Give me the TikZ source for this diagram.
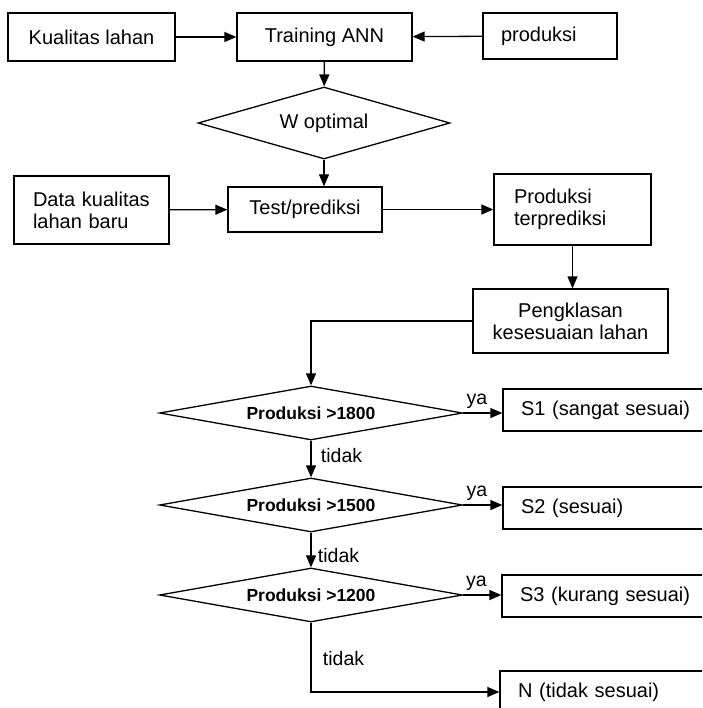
\documentclass[tikz,border=0pt]{standalone}
\usepackage{fontspec}
\setmainfont{Liberation Sans}
\usetikzlibrary{shapes.geometric,arrows.meta}

\tikzset{
  box/.style={draw, rectangle, line width=1.3pt, inner sep=0pt, font=\fontsize{20}{22}\selectfont},
  decision/.style={draw, diamond, line width=1.3pt, inner sep=0pt},
  check/.style={decision, minimum width=303pt, minimum height=54pt, shape aspect=5.5, font=\bfseries\fontsize{17.5}{20}\selectfont},
  result/.style={box, text width=176pt, inner xsep=18pt, minimum height=42pt, align=left},
  flow/.style={-{Triangle[length=12pt,width=10pt]}, line width=1.3pt},
  lbl/.style={font=\fontsize{19.5}{22}\selectfont}
}

\begin{document}
\begin{tikzpicture}[x=1pt,y=-1pt]
  \clip (0,0) rectangle (702,708);
  % Nodes
  \node[box, minimum width=167pt, minimum height=48pt] (kualitas) at (91.5,37) {Kualitas lahan};
  \node[box, minimum width=175pt, minimum height=48pt] (training) at (324.5,37) {Training ANN};
  \node[box, text width=98pt, inner xsep=18pt, minimum height=46pt, align=left] (produksi) at (550,36) {produksi};
  \node[decision, minimum width=252pt, minimum height=72pt, shape aspect=3.5, font=\fontsize{20}{22}\selectfont] (woptimal) at (324,123) {W optimal};
  \node[box, text width=117pt, inner xsep=19pt, minimum height=68pt, align=left] (data) at (91.5,210) {Data kualitas\\lahan baru};
  \node[box, minimum width=154pt, minimum height=45pt] (test) at (305,209.5) {Test/prediksi};
  \node[box, text width=117pt, inner xsep=20pt, minimum height=71pt, align=left] (prediksi) at (572.5,209.5) {Produksi\\terprediksi};
  \node[box, minimum width=195pt, minimum height=64pt, align=center] (kelas) at (570.5,321) {Pengklasan\\kesesuaian lahan};

  \node[check] (cek1) at (311,413) {Produksi >1800};
  \node[check] (cek2) at (311,505) {Produksi >1500};
  \node[check] (cek3) at (311,595) {Produksi >1200};

  \node[result] (s1) at (609,410) {S1 (sangat sesuai)};
  \node[result] (s2) at (609,508) {S2 (sesuai)};
  \node[result] (s3) at (608,596) {S3 (kurang sesuai)};
  \node[result] (n) at (606,692) {N (tidak sesuai)};

  % Edges
  \draw[flow] (kualitas) -- (training);
  \draw[flow] (produksi) -- (training);
  \draw[flow] (training) -- (woptimal);
  \draw[flow] (woptimal.south) -- (woptimal.south |- test.north);
  \draw[flow] (data) -- (test);
  \draw[flow] (test) -- (prediksi);
  \draw[flow] (prediksi.south) -- (prediksi.south |- kelas.north);
  \draw[flow] (kelas.west) -| (cek1.north);

  \draw[flow] (cek1.east) -- (cek1.east -| s1.west) node[lbl, pos=0.35, above] {ya};
  \draw[flow] (cek2.east) -- (cek2.east -| s2.west) node[lbl, pos=0.35, above] {ya};
  \draw[flow] (cek3.east) -- (cek3.east -| s3.west) node[lbl, pos=0.35, above] {ya};

  \draw[flow] (cek1.south) -- (cek2.north) node[lbl, pos=0.4, right, xshift=6pt] {tidak};
  \draw[flow] (cek2.south) -- (cek3.north) node[lbl, pos=0.65, right, xshift=3pt] {tidak};
  \draw[flow] (cek3.south) |- (n.west) node[lbl, pos=0.26, right, xshift=8pt] {tidak};
\end{tikzpicture}
\end{document}
